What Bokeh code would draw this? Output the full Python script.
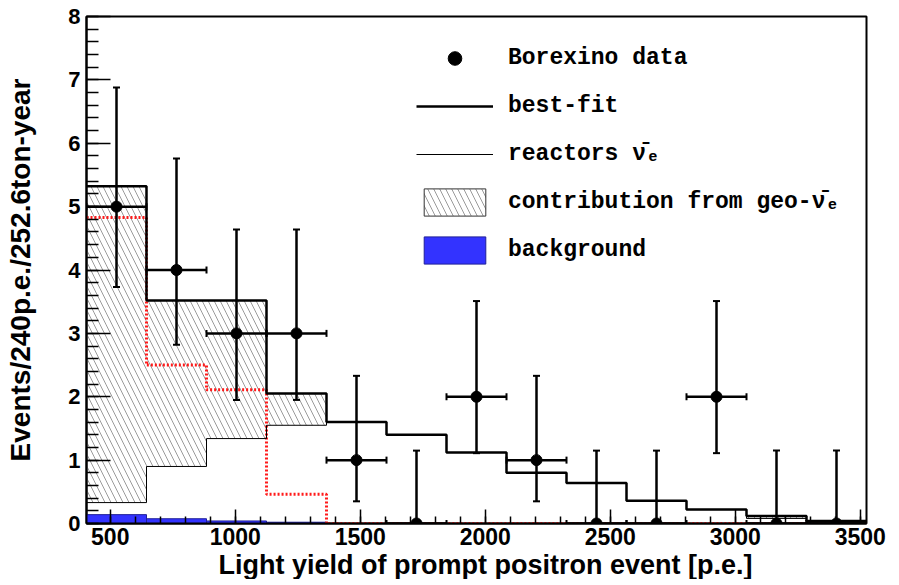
import numpy as np
from bokeh.plotting import figure
from bokeh.models import (ColumnDataSource, Whisker, TeeHead, Legend, LegendItem,
                          Range1d, FixedTicker, Title)
from bokeh.embed import file_html
from bokeh.resources import INLINE

# ---------------- data ----------------
bin_edges = [405, 645, 885, 1125, 1365, 1605, 1845, 2085, 2325, 2565, 2805, 3045, 3285, 3525]
data_counts = [5, 4, 3, 3, 1, 0, 2, 1, 0, 0, 2, 0, 0]
data_err_low = [3.73, 2.82, 1.95, 1.95, 0.35, 0.0, 1.11, 0.35, 0.0, 0.0, 1.11, 0.0, 0.0]
data_err_high = [6.88, 5.76, 4.64, 4.64, 2.33, 1.15, 3.51, 2.33, 1.15, 1.15, 3.51, 1.15, 1.15]
best_fit = [5.32, 3.52, 3.52, 2.05, 1.60, 1.40, 1.12, 0.80, 0.64, 0.36, 0.22, 0.12, 0.04]
reactors = [0.33, 0.90, 1.34, 1.55, 1.60, 1.40, 1.12, 0.80, 0.64, 0.36, 0.22, 0.08, 0.02]
geo_only = [4.83, 2.50, 2.11, 0.46, 0.0, 0.0, 0.0, 0.0, 0.0, 0.0, 0.0, 0.0, 0.0]
background = [0.14, 0.075, 0.04, 0.02, 0.0, 0.0, 0.0, 0.0, 0.0, 0.0, 0.0, 0.0, 0.0]
x_ticks = [500, 1000, 1500, 2000, 2500, 3000, 3500]
y_ticks = [0, 1, 2, 3, 4, 5, 6, 7, 8]

legend_labels = ["Borexino data", "best-fit", "reactors \u03bd\u0304\u2091",
                 "contribution from geo-\u03bd\u0304\u2091", "background"]
x_title = "Light yield of prompt positron event [p.e.]"
y_title = "Events/240p.e./252.6ton-year"

# ---------------- derived ----------------
edges = np.array(bin_edges, dtype=float)
lefts, rights = edges[:-1], edges[1:]
centers = 0.5 * (lefts + rights)

def step_y(vals):
    return list(vals) + [vals[-1]]

FONT = "Liberation Sans"
HATCH = dict(hatch_pattern="\\", hatch_color="#707070", hatch_weight=0.7, hatch_scale=12)

p = figure(frame_width=780, frame_height=507,
           x_range=Range1d(bin_edges[0], bin_edges[-1]), y_range=Range1d(0, 8),
           output_backend="svg", toolbar_location=None,
           min_border_left=86, min_border_right=30, min_border_top=16, min_border_bottom=10,
           background_fill_color="white", border_fill_color="white")

p.xgrid.visible = False
p.ygrid.visible = False
p.outline_line_color = "black"
p.outline_line_width = 2

# hatched geo contribution
hatch_r = p.quad(left=lefts, right=rights, bottom=reactors, top=best_fit,
                 fill_color=None, line_alpha=0, **HATCH)
# legend look of the hatched contribution (same data, hidden; only used by the legend)
hatch_legend_r = p.quad(left=lefts, right=rights, bottom=reactors, top=best_fit,
                        fill_color="white", line_color="#333333", line_width=1,
                        visible=False, **HATCH)
# background
bkg_r = p.quad(left=lefts, right=rights, bottom=0, top=background,
               fill_color="#3333ff", line_color="#1f1f99", line_width=1)
# geo only (red dotted)
p.step(x=bin_edges, y=step_y(geo_only), mode="after",
       line_color="#ff1a1a", line_width=3, line_dash="2 2")
# reactors (thin)
react_r = p.step(x=bin_edges, y=step_y(reactors), mode="after",
                 line_color="black", line_width=1)
# best fit (thick)
best_r = p.step(x=bin_edges, y=step_y(best_fit), mode="after",
                line_color="black", line_width=2.5)

# data points with error bars
src = ColumnDataSource(dict(x=centers, y=data_counts, lo=data_err_low, hi=data_err_high,
                            xl=lefts, xh=rights))
def tee():
    return TeeHead(size=7, line_width=2, line_color="black")
vw = Whisker(source=src, base="x", lower="lo", upper="hi", dimension="height",
             line_color="black", line_width=2.5, level="annotation",
             upper_head=tee(), lower_head=tee())
hw = Whisker(source=src, base="y", lower="xl", upper="xh", dimension="width",
             line_color="black", line_width=2.5, level="annotation",
             upper_head=tee(), lower_head=tee())
p.add_layout(vw)
p.add_layout(hw)
data_r = p.scatter(x="x", y="y", source=src, size=11, color="black")

legend = Legend(items=[
    LegendItem(label=legend_labels[0], renderers=[data_r]),
    LegendItem(label=legend_labels[1], renderers=[best_r]),
    LegendItem(label=legend_labels[2], renderers=[react_r]),
    LegendItem(label=legend_labels[3], renderers=[hatch_legend_r]),
    LegendItem(label=legend_labels[4], renderers=[bkg_r]),
], location=(330, 256), padding=0, margin=0, spacing=14,
    glyph_width=77, glyph_height=34, label_standoff=15, label_height=34,
    border_line_alpha=0, background_fill_alpha=0, inactive_fill_alpha=0,
    label_text_font="Liberation Mono", label_text_font_style="bold",
    label_text_font_size="23px", label_text_color="black")
p.add_layout(legend)

# axes
p.xaxis.ticker = FixedTicker(ticks=x_ticks, minor_ticks=list(np.arange(x_ticks[0], x_ticks[-1] + 1, 100)))
p.yaxis.ticker = FixedTicker(ticks=y_ticks, minor_ticks=list(np.arange(y_ticks[0], y_ticks[-1] + 0.01, 0.2)))
for ax in (p.xaxis[0], p.yaxis[0]):
    ax.axis_line_color = "black"
    ax.axis_line_width = 2
    ax.major_tick_line_color = "black"
    ax.major_tick_line_width = 1.5
    ax.minor_tick_line_color = "black"
    ax.minor_tick_line_width = 1.5
    ax.major_tick_out = 0
    ax.minor_tick_out = 0
    ax.major_label_text_font = FONT
    ax.major_label_text_font_style = "bold"
    ax.major_label_text_color = "black"
p.xaxis.major_tick_in = 14
p.xaxis.minor_tick_in = 7
p.yaxis.major_tick_in = 24
p.yaxis.minor_tick_in = 12
p.xaxis.major_label_text_font_size = "23px"
p.yaxis.major_label_text_font_size = "22px"
p.xaxis.major_label_standoff = 4
p.yaxis.major_label_standoff = 6

# y title on the axis
p.yaxis.axis_label = y_title
p.yaxis.axis_label_standoff = 29
p.yaxis.axis_label_text_font = FONT
p.yaxis.axis_label_text_font_style = "bold"
p.yaxis.axis_label_text_font_size = "28px"
p.yaxis.axis_label_text_color = "black"

# x title as a title below the axis (offset to the right as in the reference)
p.add_layout(Title(text=x_title, align="left", offset=132, standoff=0,
                   text_font=FONT, text_font_style="bold", text_font_size="27px",
                   text_color="black"), "below")

open("out.html", "w").write(file_html(p, INLINE))
